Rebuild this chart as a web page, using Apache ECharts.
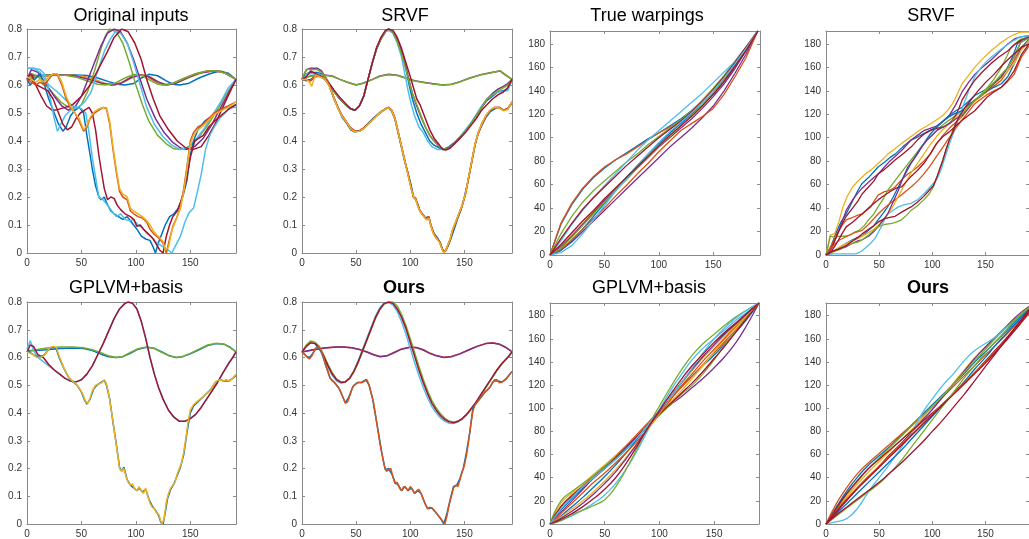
<!DOCTYPE html>
<html><head><meta charset="utf-8">
<script src="https://cdn.jsdelivr.net/npm/echarts@6/dist/echarts.min.js"></script>
<style>html,body{margin:0;padding:0;background:#fff;overflow:hidden}#c{width:1029px;height:539px}</style>
</head><body><div id="c"></div><script>
// ---------- colours (MATLAB default order) ----------
const B='#0072BD',O='#D95319',Y='#EDB120',P='#7E2F8E',G='#77AC30',C='#4DBEEE',R='#A2142F';

// ---------- titles & ticks ----------
const titles=['Original inputs','SRVF','True warpings','SRVF','GPLVM+basis','Ours','GPLVM+basis','Ours'];
const funcYTicks=[0,0.1,0.2,0.3,0.4,0.5,0.6,0.7,0.8];
const warpYTicks=[0,20,40,60,80,100,120,140,160,180];
const xTicks=[0,50,100,150];

// ---------- Panel 1: Original inputs ----------
const origFlatBlue=[[0,.62],[10,.63],[25,.635],[40,.637],[55,.634],[65,.625],[75,.612],[83,.603],[90,.6],[98,.605],[105,.625],[112,.638],[120,.633],[128,.615],[134,.603],[140,.6],[148,.605],[158,.625],[168,.64],[177,.65],[185,.642],[192,.62]];
const origFlatOrange=[[0,.63],[8,.63],[20,.634],[35,.636],[50,.632],[62,.62],[72,.605],[80,.6],[88,.61],[96,.63],[103,.638],[110,.632],[118,.612],[125,.6],[133,.605],[143,.622],[155,.64],[166,.65],[176,.65],[184,.64],[192,.62]];
const origFlatYellow=[[0,.63],[10,.632],[22,.635],[38,.636],[52,.63],[63,.617],[73,.603],[81,.6],[90,.612],[99,.632],[106,.637],[114,.628],[122,.608],[129,.6],[138,.608],[150,.628],[162,.645],[172,.65],[181,.645],[192,.62]];
const origFlatPurple=[[0,.63],[8,.634],[20,.636],[32,.637],[45,.632],[57,.62],[68,.607],[78,.6],[86,.606],[95,.625],[104,.636],[112,.63],[120,.612],[128,.6],[136,.605],[147,.625],[158,.642],[170,.65],[180,.646],[192,.62]];
const origFlatGreen=[[0,.62],[8,.63],[20,.635],[35,.635],[45,.628],[55,.615],[65,.603],[72,.6],[80,.605],[90,.625],[98,.638],[106,.633],[114,.615],[120,.603],[127,.6],[135,.607],[145,.625],[155,.64],[165,.65],[175,.65],[183,.64],[192,.62]];
const origBigGreen=[[0,.62],[5,.64],[10,.63],[17,.6],[24,.57],[31,.54],[38,.52],[44,.51],[50,.53],[56,.58],[62,.65],[68,.73],[72,.775],[76,.8],[82,.79],[88,.75],[94,.68],[100,.6],[106,.53],[112,.47],[120,.42],[128,.39],[135,.372],[141,.37],[149,.38],[157,.41],[165,.45],[173,.5],[182,.56],[192,.62]];
const origBigPurple=[[0,.62],[4,.655],[10,.645],[18,.6],[25,.56],[32,.525],[38,.51],[44,.52],[50,.56],[56,.62],[62,.68],[68,.74],[74,.785],[80,.8],[86,.79],[92,.75],[98,.69],[104,.62],[110,.55],[118,.48],[126,.43],[134,.395],[141,.375],[147,.37],[154,.38],[162,.41],[170,.46],[178,.52],[185,.57],[192,.62]];
const origBigCyan=[[0,.66],[6,.66],[12,.645],[20,.6],[28,.575],[36,.545],[42,.525],[47,.52],[53,.54],[59,.576],[65,.65],[71,.72],[76,.76],[81,.79],[86,.785],[92,.75],[98,.68],[104,.6],[110,.52],[117,.46],[125,.415],[133,.385],[140,.37],[147,.375],[154,.4],[162,.44],[170,.49],[178,.54],[185,.59],[192,.62]];
const origBigRed=[[0,.63],[4,.64],[8,.6],[13,.56],[18,.525],[23,.51],[28,.512],[35,.52],[42,.53],[50,.56],[58,.6],[66,.66],[74,.72],[80,.77],[87,.8],[93,.79],[99,.75],[105,.69],[110,.62],[116,.55],[122,.49],[130,.44],[138,.4],[146,.375],[153,.37],[160,.38],[167,.42],[174,.47],[181,.53],[187,.58],[192,.62]];
const origDipBlue=[[0,.62],[3,.6],[7,.62],[12,.64],[16,.6],[20,.55],[25,.5],[29,.46],[33,.435],[36,.45],[40,.49],[44,.51],[48,.52],[52,.5],[55,.42],[58,.35],[60,.3],[63,.24],[66,.2],[68,.19],[71,.2],[73,.18],[77,.15],[80,.14],[84,.13],[88,.12],[92,.13],[96,.11],[101,.085],[105,.06],[109,.05],[113,.045],[116,.02],[118,0],[121,.04],[124,.07],[127,.1],[131,.13],[135,.14],[139,.16],[143,.2],[147,.26],[150,.35],[153,.4],[157,.44],[163,.47],[170,.49],[176,.51],[182,.52],[187,.52],[192,.53]];
const origDipCyan=[[0,.66],[6,.66],[12,.655],[16,.64],[19,.6],[22,.54],[25,.48],[28,.435],[31,.46],[35,.49],[40,.51],[45,.52],[50,.515],[54,.5],[57,.43],[60,.34],[63,.27],[66,.2],[70,.19],[74,.17],[78,.15],[82,.13],[86,.14],[90,.12],[94,.115],[98,.12],[102,.1],[106,.09],[110,.07],[114,.06],[118,.04],[122,.03],[126,.02],[130,.01],[133,0],[137,.03],[141,.06],[145,.11],[149,.145],[153,.16],[156,.21],[160,.28],[164,.37],[168,.42],[172,.45],[177,.48],[182,.5],[187,.52],[192,.52]];
const origDipRed=[[0,.62],[4,.62],[9,.6],[14,.59],[19,.58],[24,.55],[29,.5],[33,.46],[37,.44],[41,.45],[45,.48],[49,.5],[53,.51],[57,.52],[60,.5],[63,.44],[66,.35],[68,.3],[71,.23],[74,.19],[77,.2],[80,.195],[83,.17],[86,.155],[90,.14],[95,.13],[98,.12],[101,.095],[104,.1],[107,.085],[111,.07],[116,.05],[119,.03],[122,.01],[125,0],[128,.06],[131,.1],[134,.13],[138,.15],[141,.18],[144,.22],[147,.275],[150,.34],[154,.4],[158,.41],[162,.42],[167,.45],[172,.47],[178,.49],[184,.51],[192,.53]];
const origDipOrange=[[0,.62],[4,.61],[8,.6],[12,.61],[16,.6],[20,.62],[24,.64],[28,.635],[32,.6],[36,.55],[40,.52],[44,.5],[48,.47],[52,.435],[55,.45],[58,.48],[62,.5],[66,.51],[70,.52],[73,.515],[76,.46],[79,.37],[82,.29],[85,.22],[88,.2],[92,.19],[95,.15],[98,.14],[102,.13],[106,.125],[110,.11],[113,.085],[116,.07],[119,.06],[122,.05],[125,.035],[128,0],[131,.05],[134,.095],[138,.13],[141,.167],[144,.23],[147,.31],[150,.4],[153,.43],[157,.45],[162,.46],[167,.48],[172,.5],[177,.51],[182,.52],[187,.53],[192,.54]];
const origDipYellow=[[0,.63],[4,.62],[8,.61],[12,.62],[16,.61],[20,.63],[24,.64],[28,.64],[32,.61],[36,.56],[40,.525],[44,.5],[48,.48],[52,.44],[55,.455],[58,.485],[62,.505],[66,.515],[70,.52],[73,.52],[76,.47],[79,.38],[82,.3],[85,.23],[88,.21],[92,.2],[95,.16],[98,.15],[102,.14],[106,.13],[110,.115],[113,.1],[116,.08],[119,.065],[122,.055],[125,.04],[127,.01],[130,.02],[133,.08],[137,.12],[141,.16],[144,.22],[147,.3],[150,.39],[153,.42],[157,.44],[162,.455],[167,.475],[172,.495],[177,.505],[182,.515],[187,.525],[192,.54]];

// ---------- Panel 2: SRVF aligned functions ----------
const srvfFlatPurple=[[0,.62],[6,.63],[12,.635],[20,.636],[28,.632],[35,.62],[42,.61],[50,.6],[57,.607],[65,.62],[72,.632],[80,.638],[88,.635],[96,.625],[104,.615],[112,.61],[120,.605],[130,.6],[138,.603],[146,.612],[155,.625],[165,.637],[175,.645],[183,.65],[188,.635],[194,.62]];
const srvfFlatGreen=[[0,.62],[6,.63],[12,.634],[20,.635],[28,.631],[35,.62],[42,.61],[50,.601],[57,.606],[65,.619],[72,.631],[80,.637],[88,.634],[96,.624],[104,.614],[112,.609],[120,.604],[130,.6],[138,.602],[146,.611],[155,.624],[165,.636],[175,.644],[183,.651],[188,.637],[194,.62]];
const srvfBigBlue=[[0,.62],[4,.64],[8,.645],[14,.645],[18,.64],[22,.62],[26,.6],[30,.575],[35,.55],[40,.53],[45,.515],[49,.51],[53,.525],[57,.56],[61,.62],[65,.68],[69,.73],[73,.765],[77,.79],[80,.8],[84,.79],[88,.76],[92,.72],[96,.66],[99,.6],[102,.55],[106,.5],[110,.46],[114,.43],[118,.4],[122,.385],[127,.375],[131,.37],[136,.38],[141,.395],[146,.415],[151,.435],[156,.46],[161,.49],[166,.52],[171,.545],[176,.56],[181,.575],[186,.58],[190,.585],[194,.62]];
const srvfBigCyan=[[0,.62],[4,.64],[8,.64],[14,.64],[18,.635],[22,.62],[26,.6],[30,.575],[35,.55],[40,.53],[45,.515],[49,.51],[53,.525],[57,.56],[61,.62],[65,.68],[69,.735],[73,.77],[77,.79],[80,.795],[84,.785],[88,.75],[92,.7],[95,.64],[98,.58],[101,.53],[104,.49],[108,.45],[112,.43],[116,.4],[120,.38],[125,.37],[131,.37],[136,.38],[141,.395],[146,.415],[151,.44],[156,.465],[161,.495],[166,.525],[171,.55],[176,.565],[181,.575],[186,.578],[190,.58],[194,.615]];
const srvfBigPurple=[[0,.62],[4,.655],[8,.66],[14,.66],[18,.65],[22,.625],[26,.6],[30,.575],[35,.55],[40,.53],[45,.515],[49,.51],[53,.525],[57,.56],[61,.62],[65,.68],[69,.73],[73,.765],[77,.79],[80,.8],[84,.79],[88,.76],[92,.72],[96,.665],[99,.615],[102,.57],[106,.525],[110,.485],[114,.45],[118,.42],[122,.4],[127,.38],[131,.37],[136,.378],[141,.393],[146,.412],[151,.435],[156,.46],[161,.49],[166,.52],[171,.55],[176,.57],[181,.585],[186,.595],[190,.605],[194,.62]];
const srvfBigGreen=[[0,.62],[4,.655],[8,.655],[14,.655],[18,.645],[22,.625],[26,.6],[30,.575],[35,.55],[40,.53],[45,.515],[49,.51],[53,.525],[57,.56],[61,.62],[65,.68],[69,.73],[73,.765],[77,.79],[80,.8],[84,.788],[88,.755],[92,.71],[96,.655],[99,.61],[102,.57],[106,.53],[110,.49],[114,.45],[118,.42],[122,.4],[127,.38],[131,.37],[136,.375],[141,.39],[146,.41],[151,.435],[156,.46],[161,.49],[166,.52],[171,.55],[176,.565],[181,.58],[186,.59],[190,.6],[194,.62]];
const srvfBigRed=[[0,.62],[4,.63],[8,.65],[13,.64],[18,.63],[22,.62],[26,.6],[30,.58],[35,.555],[40,.535],[45,.515],[49,.51],[53,.525],[57,.56],[61,.62],[65,.68],[69,.735],[73,.77],[77,.795],[80,.8],[84,.795],[88,.77],[92,.73],[96,.68],[100,.63],[103,.59],[106,.55],[109,.53],[112,.5],[115,.47],[118,.44],[122,.41],[126,.39],[130,.37],[133,.368],[137,.375],[141,.39],[146,.41],[151,.43],[156,.455],[161,.48],[166,.51],[171,.53],[176,.55],[181,.565],[186,.575],[190,.59],[194,.62]];
const srvfDipBlue=[[0,.62],[4,.615],[8,.62],[12,.63],[17,.63],[21,.62],[25,.6],[29,.555],[33,.52],[37,.485],[41,.465],[45,.44],[49,.432],[53,.437],[57,.447],[61,.462],[65,.478],[69,.492],[73,.505],[77,.515],[80,.518],[83,.505],[86,.475],[89,.425],[92,.375],[95,.325],[98,.285],[101,.24],[103,.2],[105,.19],[107,.175],[109,.15],[111,.14],[114,.125],[117,.13],[119,.1],[122,.07],[125,.055],[128,.035],[130,.01],[132,.005],[135,.025],[138,.055],[141,.09],[144,.125],[147,.155],[150,.2],[153,.25],[156,.31],[159,.37],[162,.42],[166,.455],[170,.485],[174,.505],[178,.515],[182,.52],[186,.51],[190,.515],[194,.535]];
const srvfDipRed=[[0,.62],[4,.62],[8,.615],[12,.63],[17,.632],[21,.622],[25,.6],[29,.56],[33,.522],[37,.49],[41,.468],[45,.447],[49,.435],[53,.435],[57,.445],[61,.46],[65,.475],[69,.49],[73,.503],[77,.514],[80,.52],[83,.51],[86,.48],[89,.43],[92,.38],[95,.33],[98,.28],[101,.23],[103,.2],[105,.195],[107,.17],[109,.15],[111,.14],[113,.13],[115,.12],[117,.13],[119,.1],[121,.075],[123,.06],[125,.05],[127,.04],[129,.02],[131,.003],[133,.01],[135,.03],[137,.05],[139,.08],[142,.11],[145,.14],[148,.17],[151,.21],[154,.27],[157,.33],[160,.39],[163,.43],[166,.46],[170,.49],[174,.51],[178,.52],[182,.52],[186,.51],[190,.515],[194,.54]];
const srvfDipOrange=[[0,.62],[4,.62],[7,.615],[11,.625],[13,.635],[17,.63],[21,.625],[25,.6],[29,.56],[33,.52],[37,.49],[41,.47],[45,.445],[49,.435],[53,.435],[57,.445],[61,.46],[65,.475],[69,.49],[73,.505],[77,.515],[80,.52],[83,.51],[86,.48],[89,.43],[92,.38],[95,.33],[98,.28],[101,.23],[103,.2],[105,.195],[107,.17],[109,.15],[111,.14],[113,.13],[115,.12],[117,.13],[119,.1],[121,.075],[123,.06],[125,.05],[127,.04],[129,.02],[131,0],[133,.01],[135,.03],[137,.05],[139,.08],[142,.11],[145,.14],[148,.17],[151,.21],[154,.27],[157,.33],[160,.39],[163,.43],[166,.46],[170,.49],[174,.51],[178,.52],[182,.52],[186,.51],[190,.515],[194,.54]];
const srvfDipYellow=[[0,.62],[4,.62],[7,.61],[9,.595],[11,.62],[13,.635],[17,.628],[21,.622],[25,.598],[29,.558],[33,.518],[37,.488],[41,.468],[45,.443],[49,.433],[53,.434],[57,.444],[61,.459],[65,.474],[69,.489],[73,.504],[77,.514],[80,.519],[83,.508],[86,.478],[89,.428],[92,.378],[95,.328],[98,.278],[101,.228],[103,.2],[105,.19],[107,.168],[109,.148],[111,.138],[113,.128],[115,.118],[117,.125],[119,.098],[121,.072],[123,.058],[125,.048],[127,.038],[129,.018],[131,0],[133,.012],[135,.032],[137,.052],[139,.082],[142,.112],[145,.142],[148,.172],[151,.212],[154,.272],[157,.332],[160,.392],[163,.432],[166,.462],[170,.492],[174,.512],[178,.52],[182,.518],[186,.508],[190,.512],[194,.54]];

// ---------- Panel 5: GPLVM+basis aligned functions ----------
const gpFlatBlue=[[0,.625],[8,.625],[18,.628],[30,.632],[42,.634],[52,.632],[60,.625],[68,.612],[75,.603],[82,.6],[88,.603],[95,.615],[102,.63],[110,.637],[117,.633],[124,.62],[131,.606],[137,.6],[143,.603],[150,.613],[158,.628],[166,.643],[174,.65],[181,.648],[187,.636],[192,.62]];
const gpFlatGreen=[[0,.62],[8,.628],[18,.634],[30,.638],[42,.638],[52,.635],[60,.628],[68,.617],[75,.606],[82,.6],[88,.604],[95,.618],[102,.632],[110,.638],[117,.632],[124,.618],[131,.605],[137,.6],[143,.604],[150,.615],[158,.63],[166,.645],[174,.651],[181,.648],[187,.635],[192,.62]];
const gpBigCyan=[[0,.63],[3,.66],[6,.625],[10,.6],[15,.585],[20,.57],[25,.555],[30,.54],[35,.525],[40,.515],[45,.512],[50,.52],[55,.54],[60,.57],[65,.61],[70,.65],[75,.695],[80,.74],[85,.775],[90,.795],[93,.8],[97,.795],[101,.775],[105,.73],[109,.67],[113,.6],[117,.54],[121,.49],[125,.45],[130,.41],[135,.385],[140,.37],[145,.37],[150,.38],[155,.395],[160,.42],[165,.45],[170,.48],[175,.51],[180,.545],[185,.575],[189,.6],[192,.62]];
const gpBigRed=[[0,.62],[3,.645],[6,.64],[10,.61],[15,.6],[20,.575],[25,.555],[30,.54],[35,.525],[40,.515],[45,.512],[50,.52],[55,.54],[60,.57],[65,.61],[70,.65],[75,.695],[80,.74],[85,.775],[90,.795],[93,.8],[97,.795],[101,.775],[105,.73],[109,.67],[113,.6],[117,.54],[121,.49],[125,.45],[130,.41],[135,.385],[140,.37],[145,.37],[150,.38],[155,.395],[160,.42],[165,.45],[170,.48],[175,.51],[180,.545],[185,.578],[189,.6],[192,.62]];
const gpDipBlue=[[0,.625],[4,.615],[8,.605],[12,.6],[16,.61],[20,.63],[24,.638],[27,.63],[30,.595],[34,.56],[38,.53],[42,.513],[46,.5],[50,.475],[53,.445],[55,.432],[58,.45],[61,.485],[64,.5],[68,.51],[71,.518],[73,.5],[76,.45],[79,.365],[82,.29],[85,.205],[87,.19],[89,.205],[92,.16],[95,.14],[98,.13],[101,.12],[103,.13],[106,.115],[109,.125],[112,.09],[115,.065],[118,.05],[121,.03],[123,.005],[125,0],[127,.04],[129,.09],[132,.125],[135,.145],[138,.175],[141,.205],[144,.25],[147,.33],[150,.4],[153,.425],[157,.44],[161,.455],[165,.47],[169,.485],[173,.51],[177,.52],[181,.515],[185,.515],[189,.525],[192,.535]];
const gpDipYellow=[[0,.62],[3,.615],[6,.61],[9,.6],[12,.6],[15,.605],[18,.62],[21,.635],[24,.64],[27,.635],[30,.6],[33,.57],[36,.545],[39,.525],[42,.515],[45,.505],[48,.49],[51,.47],[54,.44],[56,.435],[58,.455],[60,.48],[63,.5],[66,.505],[69,.51],[71,.52],[73,.505],[75,.47],[77,.42],[79,.37],[81,.31],[83,.26],[85,.2],[87,.19],[89,.2],[91,.17],[93,.15],[95,.14],[97,.145],[99,.125],[101,.12],[103,.135],[105,.12],[107,.11],[109,.13],[111,.1],[113,.075],[115,.06],[117,.055],[119,.04],[121,.035],[123,.01],[124,0],[126,.02],[128,.08],[130,.11],[132,.13],[134,.14],[136,.15],[138,.18],[140,.2],[142,.22],[144,.26],[146,.31],[148,.37],[150,.41],[153,.43],[156,.44],[159,.45],[162,.46],[165,.47],[168,.48],[171,.5],[174,.515],[177,.52],[180,.515],[183,.52],[186,.515],[189,.525],[192,.54]];

// ---------- Panel 6: Ours aligned functions ----------
const oursFlatOrange=[[0,.62],[10,.627],[20,.633],[30,.637],[38,.638],[46,.635],[54,.628],[60,.62],[66,.611],[72,.604],[78,.606],[85,.618],[92,.631],[100,.638],[106,.636],[112,.628],[118,.616],[124,.607],[131,.601],[138,.604],[146,.614],[154,.628],[162,.641],[170,.651],[176,.653],[182,.649],[188,.637],[194,.621]];
const oursFlatPurple=[[0,.62],[10,.628],[20,.634],[30,.638],[38,.638],[46,.635],[54,.628],[60,.62],[66,.61],[72,.603],[78,.605],[85,.617],[92,.63],[100,.637],[106,.635],[112,.627],[118,.615],[124,.606],[131,.6],[138,.603],[146,.613],[154,.627],[162,.64],[170,.65],[176,.652],[182,.648],[188,.637],[194,.62]];
const oursBigCyan=[[0,.62],[4,.64],[8,.655],[12,.65],[16,.633],[20,.6],[24,.565],[28,.535],[32,.515],[36,.508],[40,.512],[44,.527],[48,.553],[52,.59],[56,.63],[60,.67],[64,.71],[68,.75],[72,.78],[76,.797],[80,.798],[84,.79],[88,.765],[92,.73],[96,.685],[100,.633],[104,.582],[108,.535],[112,.493],[116,.455],[120,.423],[124,.4],[128,.382],[132,.37],[136,.363],[140,.362],[144,.367],[148,.378],[152,.393],[156,.412],[160,.433],[165,.463],[170,.493],[175,.523],[180,.553],[185,.578],[190,.6],[194,.62]];
const oursBigGreen=[[0,.62],[4,.645],[8,.66],[12,.655],[16,.64],[20,.61],[24,.575],[28,.545],[32,.522],[36,.512],[40,.513],[44,.525],[48,.55],[52,.583],[56,.622],[60,.662],[64,.703],[68,.742],[72,.773],[76,.793],[80,.8],[84,.8],[88,.785],[92,.755],[96,.715],[100,.668],[104,.618],[108,.568],[112,.522],[116,.48],[120,.445],[124,.418],[128,.397],[132,.381],[136,.371],[140,.367],[144,.37],[148,.379],[152,.393],[156,.412],[160,.433],[165,.463],[170,.493],[175,.523],[180,.553],[185,.578],[190,.6],[194,.62]];
const oursBigRed=[[0,.62],[4,.64],[8,.653],[12,.65],[16,.635],[20,.605],[24,.57],[28,.54],[32,.52],[36,.51],[40,.512],[44,.525],[48,.55],[52,.585],[56,.625],[60,.665],[64,.705],[68,.745],[72,.775],[76,.795],[80,.8],[84,.795],[88,.775],[92,.745],[96,.705],[100,.655],[104,.605],[108,.555],[112,.51],[116,.47],[120,.435],[124,.41],[128,.39],[132,.376],[136,.368],[140,.365],[144,.37],[148,.38],[152,.395],[156,.415],[160,.435],[165,.465],[170,.495],[175,.525],[180,.555],[185,.58],[190,.6],[194,.62]];
const oursDipBlue=[[0,.62],[4,.605],[7,.6],[10,.615],[14,.64],[18,.62],[22,.57],[26,.525],[30,.51],[34,.49],[38,.455],[40,.437],[43,.455],[47,.495],[51,.51],[55,.51],[59,.52],[62,.5],[65,.455],[68,.39],[71,.32],[74,.25],[77,.195],[80,.2],[83,.18],[86,.15],[89,.14],[92,.12],[95,.135],[98,.12],[101,.13],[104,.11],[107,.12],[110,.11],[113,.08],[116,.055],[120,.058],[124,.04],[128,.02],[131,0],[134,.04],[137,.09],[140,.135],[143,.14],[146,.165],[149,.2],[152,.26],[155,.33],[158,.42],[161,.435],[165,.455],[169,.475],[173,.49],[177,.515],[181,.515],[185,.512],[189,.525],[194,.55]];
const oursDipOrange=[[0,.62],[3,.61],[5,.6],[7,.595],[9,.605],[12,.63],[15,.64],[17,.63],[20,.6],[22,.57],[24,.55],[26,.525],[28,.515],[30,.51],[32,.5],[34,.49],[36,.475],[38,.455],[40,.435],[42,.44],[44,.46],[46,.485],[48,.5],[50,.505],[52,.51],[54,.51],[56,.51],[58,.515],[60,.52],[62,.5],[64,.47],[66,.44],[68,.39],[70,.34],[72,.29],[74,.25],[76,.21],[78,.19],[80,.195],[82,.2],[84,.17],[86,.145],[88,.15],[90,.13],[92,.12],[94,.135],[96,.13],[98,.12],[100,.135],[102,.125],[104,.11],[106,.12],[108,.125],[110,.11],[112,.09],[114,.07],[116,.055],[118,.06],[120,.058],[122,.05],[124,.04],[126,.03],[128,.02],[130,.01],[132,0],[134,.03],[136,.07],[138,.1],[140,.13],[142,.14],[144,.135],[146,.16],[148,.19],[150,.21],[152,.25],[154,.3],[156,.36],[158,.41],[160,.43],[162,.44],[164,.45],[166,.46],[168,.47],[170,.48],[172,.485],[174,.495],[176,.51],[178,.52],[180,.52],[182,.51],[184,.51],[186,.515],[188,.52],[190,.53],[194,.55]];

// ---------- Panel 3: True warpings (shared x) ----------
const warpX=[0,10,20,30,40,50,60,70,80,90,100,110,120,130,140,150,160,170,180,191];
const twOrange=[0,27,44,57,67,75,81,86,92,98,104,109,114,120,128,138,150,163,176,191];
const twBlue=[0,26,43,56,66,74,81,87,93,99,104,110,116,123,131,141,152,165,177,191];
const twGreen=[0,18,33,45,55,63,71,79,86,94,101,108,115,123,132,142,153,165,177,191];
const twRed=[0,14,27,39,49,58,67,76,84,92,100,107,114,122,131,141,152,164,177,191];
const twCyan=[0,12,26,38,49,59,69,79,89,98,106,114,122,130,138,147,156,165,176,191];
const twYellow=[0,8,17,27,37,47,57,66,76,85,94,103,113,122,132,142,153,164,176,191];
const twRed2=[0,9,19,29,38,48,57,66,75,84,93,102,110,118,127,137,148,161,174,191];
const twBlue2=[0,4,12,22,33,44,55,66,76,86,95,104,112,120,128,137,148,160,174,191];
const twCyan2=[0,2,8,18,30,42,54,65,76,86,96,105,113,121,130,140,151,163,176,191];
const twOrange2=[0,5,13,22,31,40,50,59,69,78,88,97,106,112,118,125,137,152,168,191];
const twPurple=[0,4,11,20,29,38,47,56,65,74,83,92,100,108,117,127,140,155,171,191];
const twGreen2=[0,6,15,25,35,45,55,64,74,83,92,101,110,119,128,138,149,161,175,191];
const twPurple2=[0,7,16,26,36,46,56,65,74,83,92,100,108,116,125,135,146,159,174,191];

// ---------- Panel 4: SRVF warpings ----------
const swYellow=[[0,0],[4,17],[8,18],[12,28],[16,41],[20,50],[25,58],[31,64],[37,69],[43,73],[49,78],[54,82],[58,86],[64,90],[71,95],[77,99],[83,103],[89,107],[95,110],[102,114],[110,119],[115,124],[119,129],[124,138],[128,146],[134,153],[140,160],[147,167],[155,174],[163,180],[171,185],[177,188],[183,190],[191,190]];
const swBlue=[[0,0],[5,8],[9,18],[14,28],[19,35],[25,46],[30,55],[34,61],[40,66],[45,71],[49,75],[55,79],[60,83],[65,86],[72,92],[80,98],[87,101],[95,105],[104,109],[110,114],[116,119],[122,123],[128,126],[134,131],[140,136],[146,139],[152,142],[158,147],[165,152],[171,160],[176,170],[180,180],[185,184],[191,186]];
const swPurple=[[0,0],[5,6],[10,16],[15,28],[19,38],[25,47],[30,53],[34,57],[40,62],[45,66],[49,69],[55,75],[60,80],[65,84],[72,90],[80,98],[86,102],[92,106],[98,108],[104,110],[110,114],[116,119],[122,128],[128,139],[134,147],[140,154],[147,160],[155,166],[163,173],[171,180],[177,184],[183,186],[191,187]];
const swRed=[[0,0],[5,5],[10,16],[15,26],[19,33],[25,40],[30,46],[34,52],[40,58],[45,63],[49,69],[55,73],[60,77],[65,81],[72,86],[80,92],[86,98],[92,103],[98,106],[104,108],[110,109],[113,110],[118,114],[122,119],[125,125],[128,132],[134,141],[140,149],[147,156],[155,163],[163,169],[171,174],[177,179],[183,183],[191,185]];
const swOrange=[[0,0],[4,6],[8,14],[10,18],[15,25],[19,30],[25,32],[30,34],[34,35],[38,38],[42,41],[46,47],[49,51],[55,54],[60,55],[65,58],[71,64],[77,69],[82,72],[86,75],[92,80],[98,86],[104,95],[110,102],[116,108],[122,113],[128,118],[134,125],[140,132],[146,136],[152,140],[158,144],[165,149],[171,157],[177,166],[183,177],[191,182]];
const swRed2=[[0,0],[5,3],[10,10],[15,18],[19,24],[25,28],[30,32],[34,35],[40,40],[45,44],[49,47],[55,51],[62,55],[66,57],[71,58],[76,63],[80,67],[86,72],[92,78],[98,86],[104,95],[110,101],[116,105],[122,110],[128,115],[134,119],[140,123],[146,129],[152,135],[158,139],[165,143],[171,149],[177,157],[184,171],[191,180]];
const swGreen=[[0,0],[4,16],[8,15],[13,16],[18,16],[22,17],[26,19],[31,21],[36,25],[40,30],[45,35],[49,41],[54,48],[58,55],[63,61],[68,67],[74,74],[80,81],[86,88],[92,95],[98,101],[104,106],[110,111],[116,115],[122,119],[128,123],[134,128],[140,132],[146,137],[152,143],[158,150],[165,160],[170,169],[174,177],[179,181],[183,184],[191,186]];
const swGreen2=[[0,0],[8,3],[14,5],[19,8],[25,10],[30,11],[34,13],[40,17],[45,21],[49,24],[55,26],[62,27],[66,28],[71,30],[76,34],[80,38],[86,42],[92,47],[97,52],[101,58],[105,68],[110,81],[113,90],[116,98],[119,106],[122,112],[126,118],[131,123],[135,127],[140,132],[147,137],[155,144],[163,152],[171,160],[177,169],[183,181],[191,185]];
const swCyan=[[0,0],[6,1],[13,1],[20,1],[28,1],[33,3],[37,6],[42,10],[46,14],[49,19],[52,24],[55,30],[58,35],[63,38],[68,41],[74,43],[80,44],[86,47],[92,52],[98,58],[104,64],[108,72],[113,86],[117,97],[122,109],[126,120],[131,132],[135,142],[140,152],[146,160],[152,166],[160,172],[167,177],[175,182],[183,186],[191,187]];
const swRed3=[[0,0],[6,3],[12,5],[19,8],[25,12],[30,15],[34,18],[40,22],[45,25],[49,28],[55,31],[60,32],[65,33],[72,37],[80,41],[86,45],[92,50],[97,55],[101,59],[105,68],[110,81],[113,90],[116,98],[119,104],[122,112],[126,119],[131,126],[137,133],[143,140],[150,147],[158,154],[166,162],[174,169],[179,173],[184,177],[191,180]];
const swPurple2=[[0,0],[6,3],[12,5],[19,7],[25,10],[30,12],[34,13],[40,16],[45,20],[49,24],[54,30],[58,35],[63,45],[68,55],[72,65],[77,75],[82,81],[86,86],[90,92],[95,98],[100,102],[104,106],[110,109],[116,112],[122,116],[128,119],[134,125],[140,132],[146,136],[152,140],[158,146],[165,152],[171,160],[177,169],[184,183],[191,186]];
const swBlue2=[[0,0],[6,3],[12,6],[19,10],[25,13],[30,15],[34,16],[40,21],[45,25],[49,30],[54,36],[58,41],[63,49],[68,58],[74,68],[80,78],[86,87],[92,95],[98,103],[104,109],[110,114],[116,118],[122,121],[128,123],[134,128],[140,132],[146,136],[152,140],[158,143],[165,146],[171,152],[177,163],[184,177],[191,184]];
const swOrange2=[[0,0],[5,6],[9,10],[13,13],[20,16],[27,19],[34,21],[40,26],[45,31],[49,35],[55,40],[60,44],[65,47],[72,52],[80,58],[86,63],[92,69],[98,76],[104,84],[110,92],[116,100],[122,108],[128,115],[134,122],[140,129],[146,133],[152,137],[158,140],[165,143],[171,148],[177,154],[184,169],[191,178]];
const swYellow2=[[0,0],[8,4],[15,8],[22,11],[30,14],[38,18],[45,22],[50,26],[56,32],[62,40],[68,50],[74,60],[80,70],[86,78],[92,86],[98,94],[104,101],[110,107],[116,112],[122,117],[128,121],[134,126],[140,131],[146,135],[152,140],[158,146],[165,151],[171,157],[177,163],[184,175],[191,183]];

// ---------- Panel 7: GPLVM+basis warpings (shared x) ----------
const gwGreen=[0,20,28,35,42,50,58,66,75,85,94,103,112,120,130,142,155,167,179,191];
const gwYellow=[0,18,27,35,43,51,59,67,76,85,95,105,115,126,137,149,160,170,180,191];
const gwOrange=[0,15,25,33,42,50,59,68,78,88,98,108,118,128,138,148,158,168,179,191];
const gwRed=[0,15,24,32,40,48,57,66,76,86,95,104,113,122,132,143,154,166,178,191];
const gwPurple=[0,10,20,30,40,49,58,67,76,86,95,103,110,118,126,135,145,157,172,191];
const gwBlue=[0,12,22,31,40,48,56,65,75,86,97,108,119,128,137,146,156,166,177,191];
const gwGreen2=[0,3,8,12,16,21,32,48,66,85,102,118,133,146,156,164,172,179,185,191];
const gwCyan=[0,3,7,12,18,25,35,48,64,82,99,115,129,142,152,160,168,176,183,191];
const gwRed2=[0,4,9,15,22,30,40,53,68,84,98,112,125,137,147,157,166,174,182,191];
const gwPurple2=[0,5,11,18,26,35,45,57,70,84,97,110,122,134,145,155,165,173,182,191];
const gwBlue2=[0,7,15,23,32,41,51,62,74,86,98,110,122,133,144,154,164,173,182,191];
const gwOrange2=[0,9,18,27,36,44,53,62,72,83,95,107,119,130,141,151,161,171,181,191];
const gwYellow2=[0,6,13,20,28,37,47,58,70,83,96,109,121,133,144,154,163,172,181,191];
const gwCyan2=[0,13,23,32,40,48,56,65,75,86,98,110,122,135,148,160,170,178,185,191];

// ---------- Panel 8: Ours warpings (shared x) ----------
const owOrange=[0,18,32,44,53,61,69,77,85,93,101,110,119,128,137,146,155,164,174,186];
const owBlue=[0,15,29,41,51,59,67,76,85,94,103,112,121,130,140,149,158,167,177,187];
const owGreen=[0,13,26,37,48,57,66,75,84,93,102,111,121,131,141,151,161,170,179,187];
const owYellow=[0,12,24,35,45,54,63,72,81,91,101,111,122,133,144,153,162,171,180,188];
const owPurple=[0,10,21,31,41,50,60,69,79,89,99,110,121,132,143,153,162,171,180,188];
const owRed=[0,14,27,38,48,56,64,72,80,88,96,104,113,122,131,141,151,161,172,184];
const owRed2=[0,8,15,22,29,36,44,52,61,70,80,90,101,112,124,136,148,160,172,185];
const owGreen2=[0,7,14,21,28,35,44,54,66,78,90,102,114,126,137,148,158,168,178,187];
const owOrange2=[0,12,22,32,41,50,59,68,77,86,95,104,113,122,131,140,150,160,170,182];
const owBlue2=[0,9,18,27,36,45,54,63,73,83,93,103,113,123,134,144,155,165,175,186];
const owRed3=[0,11,21,31,40,49,58,67,76,85,94,103,112,121,130,139,149,159,170,183];
const owCyan=[0,2,5,14,28,40,52,65,78,95,108,120,130,141,150,156,162,170,178,187];

// ---------- layout ----------
const panels=[
 {l:27, t:29, w:209,h:224,xmax:192,ymax:0.8,yi:0.1,tx:131,ty:2, bold:false},
 {l:302,t:29, w:210,h:224,xmax:194,ymax:0.8,yi:0.1,tx:405,ty:2, bold:false},
 {l:550,t:31, w:210,h:224,xmax:193,ymax:191,yi:20,tx:647,ty:2, bold:false},
 {l:826,t:31, w:211,h:224,xmax:191,ymax:191,yi:20,tx:931,ty:2, bold:false},
 {l:27, t:302,w:209,h:224,xmax:192,ymax:0.8,yi:0.1,tx:126,ty:274,bold:false},
 {l:302,t:302,w:210,h:224,xmax:194,ymax:0.8,yi:0.1,tx:404,ty:274,bold:true},
 {l:550,t:303,w:209,h:224,xmax:191,ymax:191,yi:20,tx:649,ty:274,bold:false},
 {l:826,t:303,w:211,h:224,xmax:191,ymax:191,yi:20,tx:928,ty:274,bold:true}
];

const AX='#8a8a8a', LBL='#333';
const grid=[],xAxis=[],yAxis=[],title=[],series=[];
panels.forEach((p,i)=>{
  grid.push({left:p.l,top:p.t,width:p.w,height:p.h,containLabel:false});
  const common={gridIndex:i,type:'value',min:0,splitLine:{show:false},
    axisLine:{show:true,onZero:false,lineStyle:{color:AX,width:1}},
    axisTick:{show:true,inside:true,length:3,lineStyle:{color:AX}}};
  xAxis.push(Object.assign({},common,{position:'bottom',max:p.xmax,interval:50,
    axisLabel:{show:true,color:LBL,fontSize:10,fontFamily:'Liberation Sans',margin:5,showMaxLabel:false}}));
  xAxis.push(Object.assign({},common,{position:'top',max:p.xmax,interval:50,axisLabel:{show:false}}));
  yAxis.push(Object.assign({},common,{position:'left',max:p.ymax,interval:p.yi,
    axisLabel:{show:true,color:LBL,fontSize:10,fontFamily:'Liberation Sans',margin:5,showMaxLabel:p.ymax<1}}));
  yAxis.push(Object.assign({},common,{position:'right',max:p.ymax,interval:p.yi,axisLabel:{show:false}}));
  title.push({text:titles[i],left:p.tx-5,top:p.ty,textAlign:'center',
    textStyle:{fontSize:18,fontWeight:p.bold?'bold':'normal',color:'#000',fontFamily:'Liberation Sans'}});
});

function ln(data,color,pi,w){
  return {type:'line',xAxisIndex:pi*2,yAxisIndex:pi*2,data:data,showSymbol:false,symbol:'none',
    lineStyle:{color:color,width:w||1.5},itemStyle:{color:color},animation:false,silent:true,clip:true};
}
function zipX(ys){return ys.map((v,k)=>[warpX[k],v]);}

// panel 0
[[origFlatBlue,B],[origFlatOrange,O],[origFlatYellow,Y],[origFlatPurple,P],[origFlatGreen,G],
 [origBigGreen,G],[origBigPurple,P],[origBigCyan,C],[origBigRed,R],
 [origDipBlue,B],[origDipCyan,C],[origDipRed,R],[origDipOrange,O],[origDipYellow,Y]
].forEach(s=>series.push(ln(s[0],s[1],0)));
// panel 1
[[srvfFlatPurple,P],[srvfFlatGreen,G],
 [srvfBigBlue,B],[srvfBigCyan,C],[srvfBigPurple,P],[srvfBigGreen,G],[srvfBigRed,R],
 [srvfDipBlue,B],[srvfDipRed,R],[srvfDipOrange,O],[srvfDipYellow,Y]
].forEach(s=>series.push(ln(s[0],s[1],1)));
// panel 2
[[twBlue,B],[twOrange,O],[twYellow,Y],[twPurple,P],[twGreen,G],[twCyan,C],[twRed,R],
 [twBlue2,B],[twOrange2,O],[twPurple2,P],[twGreen2,G],[twCyan2,C],[twRed2,R]
].forEach(s=>series.push(ln(zipX(s[0]),s[1],2,1.3)));
// panel 3
[[swBlue,B],[swOrange,O],[swYellow,Y],[swPurple,P],[swGreen,G],[swCyan,C],[swRed,R],
 [swBlue2,B],[swOrange2,O],[swYellow2,Y],[swPurple2,P],[swGreen2,G],[swRed2,R],[swRed3,R]
].forEach(s=>series.push(ln(s[0],s[1],3,1.3)));
// panel 4
[[gpFlatBlue,B],[gpFlatGreen,G],[gpBigCyan,C],[gpBigRed,R],[gpDipBlue,B],[gpDipYellow,Y]
].forEach(s=>series.push(ln(s[0],s[1],4)));
// panel 5
[[oursFlatOrange,O],[oursFlatPurple,P],[oursBigCyan,C],[oursBigGreen,G],[oursBigRed,R],[oursDipBlue,B],[oursDipOrange,O]
].forEach(s=>series.push(ln(s[0],s[1],5)));
// panel 6
[[gwBlue,B],[gwOrange,O],[gwYellow,Y],[gwPurple,P],[gwGreen,G],[gwCyan,C],[gwRed,R],
 [gwBlue2,B],[gwOrange2,O],[gwYellow2,Y],[gwPurple2,P],[gwGreen2,G],[gwCyan2,C],[gwRed2,R]
].forEach(s=>{const o=ln(zipX(s[0]),s[1],6,1.3);o.smooth=true;series.push(o);});
// panel 7
[[owBlue,B],[owOrange,O],[owYellow,Y],[owPurple,P],[owGreen,G],[owCyan,C],[owRed,R],
 [owBlue2,B],[owOrange2,O],[owGreen2,G],[owRed2,R],[owRed3,R]
].forEach(s=>{const o=ln(zipX(s[0]),s[1],7,1.3);o.smooth=true;series.push(o);});

const chart=echarts.init(document.getElementById('c'),null,{renderer:'canvas'});
chart.setOption({animation:false,backgroundColor:'#fff',title,grid,xAxis,yAxis,series});
</script></body></html>
